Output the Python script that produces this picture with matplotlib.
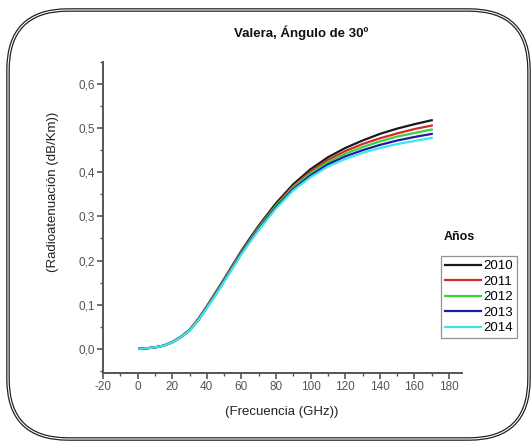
import matplotlib
matplotlib.use('Agg')
from matplotlib import pyplot as plt
from matplotlib.patches import FancyBboxPatch
from matplotlib.ticker import MultipleLocator, FuncFormatter

plt.rcParams['font.family'] = ['Liberation Sans', 'DejaVu Sans']

# Frecuencia (GHz)
freq = [1, 5, 10, 15, 20, 25, 30, 35, 40, 45, 50, 55, 60, 65, 70,
	80, 90, 100, 110, 120, 130, 140, 150, 160, 170]

# Radioatenuacion (dB/Km) por anio
y2010 = [0.000, 0.001, 0.003, 0.007, 0.015, 0.027, 0.043, 0.067, 0.096, 0.127, 0.158, 0.190, 0.222, 0.251, 0.279,
	0.330, 0.373, 0.407, 0.434, 0.455, 0.472, 0.487, 0.499, 0.509, 0.518]
y2011 = [0.000, 0.001, 0.003, 0.007, 0.015, 0.027, 0.042, 0.066, 0.095, 0.125, 0.156, 0.188, 0.220, 0.248, 0.276,
	0.326, 0.369, 0.402, 0.428, 0.448, 0.464, 0.477, 0.488, 0.498, 0.506]
y2012 = [0.000, 0.001, 0.003, 0.007, 0.015, 0.026, 0.042, 0.065, 0.094, 0.124, 0.155, 0.186, 0.218, 0.246, 0.274,
	0.324, 0.366, 0.398, 0.423, 0.442, 0.457, 0.470, 0.481, 0.489, 0.497]
y2013 = [0.000, 0.001, 0.003, 0.007, 0.014, 0.026, 0.041, 0.064, 0.093, 0.122, 0.153, 0.184, 0.216, 0.244, 0.271,
	0.321, 0.362, 0.393, 0.418, 0.436, 0.450, 0.462, 0.472, 0.480, 0.487]
y2014 = [0.000, 0.001, 0.003, 0.007, 0.014, 0.026, 0.041, 0.064, 0.092, 0.121, 0.152, 0.183, 0.214, 0.242, 0.269,
	0.318, 0.359, 0.389, 0.413, 0.430, 0.444, 0.455, 0.464, 0.471, 0.478]

years = ['2010', '2011', '2012', '2013', '2014']
series = [y2010, y2011, y2012, y2013, y2014]
colors = ['#1a1a1a', '#d42a2a', '#3ad23a', '#1c1ca8', '#3ee6ec']

W, H = 531, 441
fig = plt.figure(figsize=(W / 100, H / 100), dpi=100)
ax = fig.add_axes([103 / W, 1 - 373 / H, (462 - 103) / W, (373 - 62) / H])

lines = []
for yr, vals, col in zip(years, series, colors):
	ln, = ax.plot(freq, vals, color=col, lw=1.6, label=yr, solid_joinstyle='round')
	lines.append(ln)

ax.set_xlim(-20, 187.5)
ax.set_ylim(-0.055, 0.65)
ax.xaxis.set_major_locator(MultipleLocator(20))
ax.xaxis.set_minor_locator(MultipleLocator(10))
ax.yaxis.set_major_locator(MultipleLocator(0.1))
ax.yaxis.set_minor_locator(MultipleLocator(0.05))
ax.yaxis.set_major_formatter(FuncFormatter(lambda v, p: ('%.1f' % v).replace('.', ',').replace('-0,0', '0,0')))
ax.xaxis.set_major_formatter(FuncFormatter(lambda v, p: '%d' % v))

for s in ['top', 'right']:
	ax.spines[s].set_visible(False)
for s in ['left', 'bottom']:
	ax.spines[s].set_color('#555555')
	ax.spines[s].set_linewidth(1.4)

ax.tick_params(which='major', direction='out', length=4, width=1.2, color='#555555',
	labelsize=8.5, labelcolor='#555555', pad=2)
ax.tick_params(which='minor', direction='out', length=2.5, width=1.0, color='#555555')

fig.text(301 / W, 1 - 33 / H, 'Valera, Ángulo de 30º', ha='center', va='center',
	fontsize=9.5, fontweight='bold', color='#111111')
fig.text(282 / W, 1 - 412 / H, '(Frecuencia (GHz))', ha='center', va='center',
	fontsize=9.5, color='#222222')
fig.text(53 / W, 1 - 192 / H, '(Radioatenuación (dB/Km))', ha='center', va='center',
	rotation=90, fontsize=9.5, color='#222222')

fig.text(459 / W, 1 - 237 / H, 'Años', ha='center', va='center',
	fontsize=9, fontweight='bold', color='#111111')
leg = fig.legend(handles=lines, loc='upper left', bbox_to_anchor=(441 / W, 1 - 256 / H),
	fontsize=9.5, frameon=True, fancybox=False, handlelength=2.7, handletextpad=0.2,
	labelspacing=0.25, borderpad=0.3, borderaxespad=0)
leg.get_frame().set_edgecolor('#777777')
leg.get_frame().set_linewidth(0.9)

# marco redondeado doble alrededor de la figura
outer = FancyBboxPatch((8, 2), 521, 429, boxstyle='round,pad=0,rounding_size=60',
	transform=None, facecolor='none', edgecolor='#222222', lw=2.6)
inner = FancyBboxPatch((8, 2), 521, 429, boxstyle='round,pad=0,rounding_size=60',
	transform=None, facecolor='none', edgecolor='white', lw=0.8)
fig.add_artist(outer)
fig.add_artist(inner)

fig.savefig('out.png', dpi=100)
plt.close()
